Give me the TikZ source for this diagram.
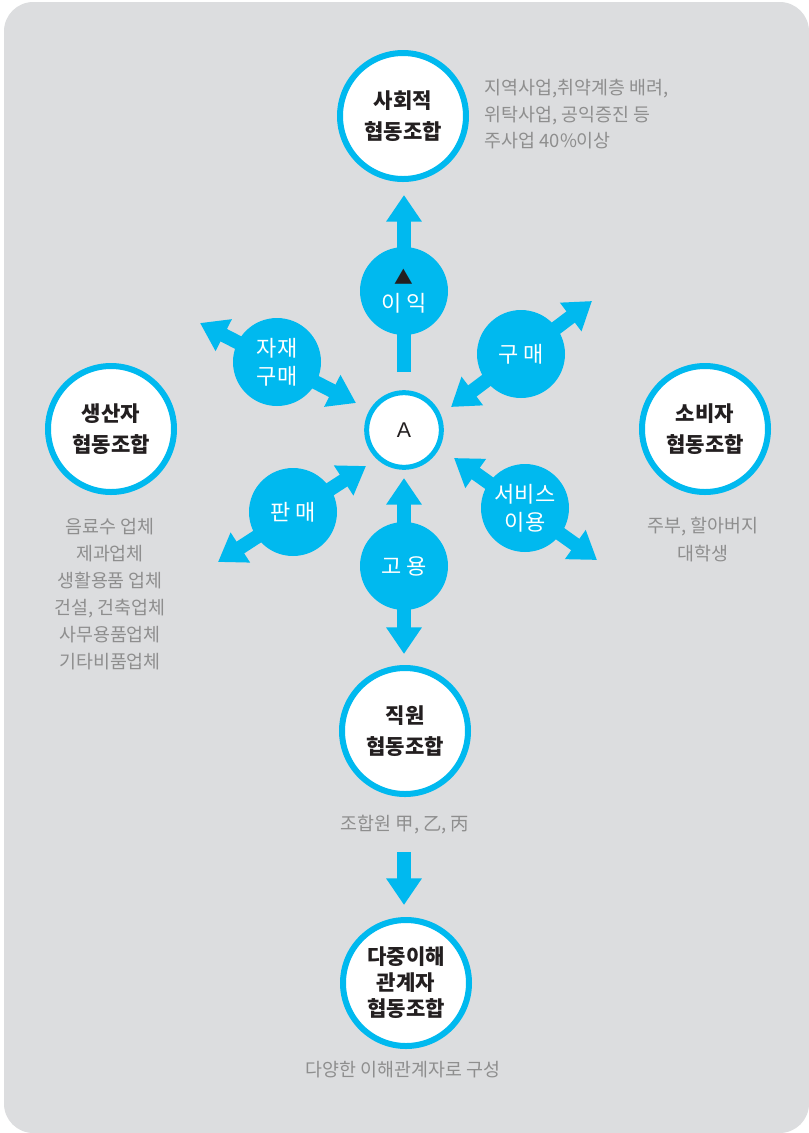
\documentclass[tikz,border=0pt]{standalone}
\usepackage{fontspec}
\setmainfont{Noto Sans CJK KR}
\newfontfamily\latinsans{Liberation Sans}
\usetikzlibrary{arrows.meta}
\definecolor{cblue}{HTML}{00B9EF}
\definecolor{bgray}{HTML}{DCDDDF}
\definecolor{tgray}{HTML}{8E8E8E}
\definecolor{tblack}{HTML}{231F20}
\begin{document}
\begin{tikzpicture}[x=0.75pt,y=-0.75pt,
  bigc/.style={circle,draw=cblue,line width=4.5pt,fill=white,minimum size=94.5pt,inner sep=0pt,align=center,font=\fontsize{15.8}{23}\selectfont\bfseries,text=tblack},
  bluec/.style={circle,fill=cblue,minimum size=66pt,inner sep=0pt,align=center,font=\fontsize{16.5}{21}\selectfont,text=white},
  centc/.style={circle,draw=cblue,line width=3.75pt,fill=white,minimum size=56pt,inner sep=0pt,font=\latinsans\fontsize{16}{18}\selectfont,text=tblack},
  note/.style={font=\fontsize{13.8}{19.8}\selectfont,text=tgray},
  barrow/.style={draw=cblue,line width=10.5pt,-{Triangle[length=20pt,width=25.5pt]}},
  dbarrow/.style={draw=cblue,line width=10.5pt,{Triangle[length=20pt,width=25.5pt]}-{Triangle[length=20pt,width=25.5pt]}}]
\useasboundingbox (0,0) rectangle (809,1133);
\fill[white] (0,0) rectangle (809,1133);
\fill[bgray,rounded corners=22pt] (4,2) rectangle (809,1133);

% arrow end coordinates
\coordinate (upS) at (404,372);
\coordinate (upE) at (404,195);
\coordinate (mgA) at (200,323);
\coordinate (mgB) at (356,403);
\coordinate (buA) at (592,301);
\coordinate (buB) at (451,407);
\coordinate (slA) at (366,466);
\coordinate (slB) at (218,562);
\coordinate (svA) at (454,458);
\coordinate (svB) at (597,560);
\coordinate (emA) at (404,478);
\coordinate (emB) at (404,654);
\coordinate (dnS) at (404,852);
\coordinate (dnE) at (404,905);

% arrows
\draw[barrow] (upS) -- (upE);
\draw[dbarrow] (mgA) -- (mgB);
\draw[dbarrow] (buA) -- (buB);
\draw[dbarrow] (slA) -- (slB);
\draw[dbarrow] (svA) -- (svB);
\draw[dbarrow] (emA) -- (emB);
\draw[barrow] (dnS) -- (dnE);

% blue circles
\node[bluec] (profit) at (404,291) {{\color{tblack}\fontsize{14}{14}\selectfont ▲}\\[-1pt]이\hspace{0.25em}익};
\node[bluec] (material) at (277,362) {자재\\구매};
\node[bluec] (buy) at (521,354) {구\hspace{0.2em}매};
\node[bluec] (sell) at (293,512) {판\hspace{0.2em}매};
\node[bluec] (service) at (525,508) {서비스\\이용};
\node[bluec] (employ) at (404,566) {고\hspace{0.2em}용};

% big circles
\node[bigc] (social) at (403,116) {사회적\\협동조합};
\node[bigc] (producer) at (111,429) {생산자\\협동조합};
\node[bigc] (consumer) at (705,429) {소비자\\협동조합};
\node[bigc] (worker) at (405,731) {직원\\협동조합};
\node[bigc,font=\fontsize{15.8}{19.5}\selectfont\bfseries] (multi) at (406,983) {다중이해\\관계자\\협동조합};
\node[centc] (A) at (404,430) {A};

% notes
\node[note,anchor=north west,align=left] (socialnote) at (480,75) {지역사업,취약계층 배려,\\위탁사업, 공익증진 등\\주사업 40\%이상};
\node[note,anchor=north,align=center,font=\fontsize{13.8}{20.2}\selectfont] (producernote) at (110,514) {음료수 업체\\제과업체\\생활용품 업체\\건설, 건축업체\\사무용품업체\\기타비품업체};
\node[note,anchor=north,align=center,font=\fontsize{13.8}{21}\selectfont] (consumernote) at (703,512) {주부, 할아버지\\대학생};
\node[note] (workernote) at (405,825) {조합원 甲, 乙, 丙};
\node[note] (multinote) at (403,1070) {다양한 이해관계자로 구성};
\end{tikzpicture}
\end{document}
